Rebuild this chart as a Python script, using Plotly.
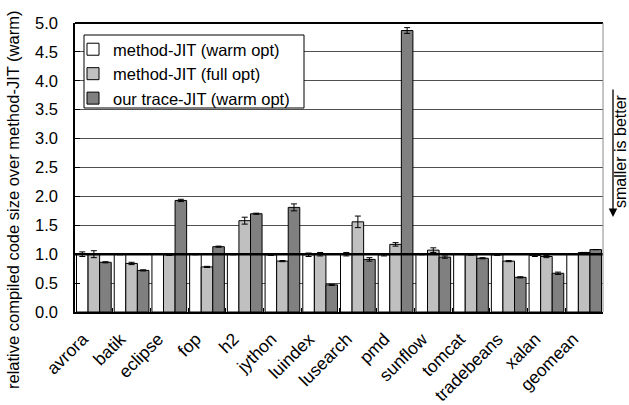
import plotly.graph_objects as go

# Benchmarks (DaCapo) plus the geometric mean
benchmarks = ["avrora", "batik", "eclipse", "fop", "h2", "jython", "luindex",
              "lusearch", "pmd", "sunflow", "tomcat", "tradebeans", "xalan", "geomean"]

# Compiled code size relative to method-JIT (warm opt)
warm_opt = [1.00, 1.00, 1.00, 1.00, 1.00, 0.99, 0.99, 1.00, 0.99, 1.00, 1.00, 0.99, 0.98, 1.00]
warm_opt_err = [0.04, 0.01, 0.005, 0.01, 0.01, 0.01, 0.03, 0.03, 0.02, 0.01, 0.005, 0.01, 0.02, 0]

full_opt = [1.00, 0.84, 0.99, 0.78, 1.58, 0.88, 1.00, 1.56, 1.17, 1.07, 0.99, 0.88, 0.96, 1.03]
full_opt_err = [0.06, 0.02, 0.01, 0.01, 0.06, 0.01, 0.03, 0.10, 0.03, 0.04, 0.005, 0.01, 0.02, 0]

trace_jit = [0.86, 0.72, 1.93, 1.13, 1.70, 1.81, 0.47, 0.91, 4.87, 0.95, 0.93, 0.60, 0.67, 1.08]
trace_jit_err = [0.01, 0.01, 0.02, 0.01, 0.01, 0.06, 0.01, 0.03, 0.05, 0.02, 0.01, 0.01, 0.02, 0]

series = [
    ("method-JIT (warm opt)", warm_opt, warm_opt_err, "#ffffff"),
    ("method-JIT (full opt)", full_opt, full_opt_err, "#c0c0c0"),
    ("our trace-JIT (warm opt)", trace_jit, trace_jit_err, "#808080"),
]

FONT = "Liberation Sans, Arial, sans-serif"
W, H = 629, 405
ML, MR, MT, MB = 75, 26, 23, 93
PW, PH = W - ML - MR, H - MT - MB


def px_x(p):
    return (p - ML) / PW


def px_y(p):
    return (H - MB - p) / PH


fig = go.Figure()
for name, vals, errs, color in series:
    fig.add_trace(go.Bar(
        x=benchmarks, y=vals, name=name,
        marker=dict(color=color, line=dict(color="#000000", width=1)),
        error_y=dict(type="data", array=errs, visible=True,
                     color="#000000", thickness=1, width=3),
    ))

shapes = [
    # legend frame
    dict(type="rect", xref="paper", yref="paper",
         x0=px_x(84), x1=px_x(304), y0=px_y(108), y1=px_y(35),
         fillcolor="#ffffff", line=dict(color="#000000", width=1), layer="above"),
    # baseline at 1.0
    dict(type="line", xref="paper", yref="y", x0=0, x1=1, y0=1, y1=1,
         line=dict(color="#000000", width=2.5), layer="above"),
    # top border
    dict(type="line", xref="paper", yref="paper", x0=0, x1=1, y0=1, y1=1,
         line=dict(color="#000000", width=2), layer="above"),
    # right border
    dict(type="line", xref="paper", yref="paper", x0=1, x1=1, y0=0, y1=1,
         line=dict(color="#8a8a8a", width=1), layer="above"),
]

annotations = [
    dict(text="relative compiled code size over method-JIT (warm)",
         xref="paper", yref="paper", x=px_x(13), y=px_y(200),
         xanchor="center", yanchor="middle", textangle=-90, showarrow=False,
         font=dict(family=FONT, size=16.5, color="#000000")),
    dict(text="smaller is better",
         xref="paper", yref="paper", x=px_x(620), y=px_y(151),
         xanchor="center", yanchor="middle", textangle=-90, showarrow=False,
         font=dict(family=FONT, size=16, color="#000000")),
    # downward arrow next to the note
    dict(text="", xref="paper", yref="paper", x=px_x(613), y=px_y(217),
         ax=0, ay=-129, showarrow=True, arrowhead=2, arrowsize=1.3,
         arrowwidth=1.3, arrowcolor="#000000"),
]

fig.update_layout(
    width=W, height=H,
    margin=dict(l=ML, r=MR, t=MT, b=MB, pad=0, autoexpand=False),
    paper_bgcolor="#ffffff", plot_bgcolor="#ffffff",
    font=dict(family=FONT, size=16, color="#000000"),
    barmode="group", bargap=0.08, bargroupgap=0,
    showlegend=True,
    legend=dict(x=px_x(73), y=px_y(32), xanchor="left", yanchor="top",
                bgcolor="rgba(0,0,0,0)", borderwidth=0,
                font=dict(family=FONT, size=16.5, color="#000000"),
                tracegroupgap=0),
    shapes=shapes, annotations=annotations,
)

fig.update_xaxes(
    tickangle=-45, tickson="boundaries", ticks="inside", ticklen=4,
    tickcolor="#000000", showline=True, linecolor="#000000", linewidth=2,
    showgrid=False, ticklabelstandoff=8, ticklabelshift=-11, automargin=False,
    tickfont=dict(family=FONT, size=17.5, color="#000000"),
)
fig.update_yaxes(
    range=[0, 5], dtick=0.5, tickformat=".1f", ticks="inside", ticklen=5,
    tickcolor="#000000", showline=True, linecolor="#000000", linewidth=1.5,
    showgrid=True, gridcolor="#505050", gridwidth=1, zeroline=False,
    ticklabelstandoff=12, automargin=False,
    tickfont=dict(family=FONT, size=16.5, color="#000000"),
)

fig.write_html("out.html")
